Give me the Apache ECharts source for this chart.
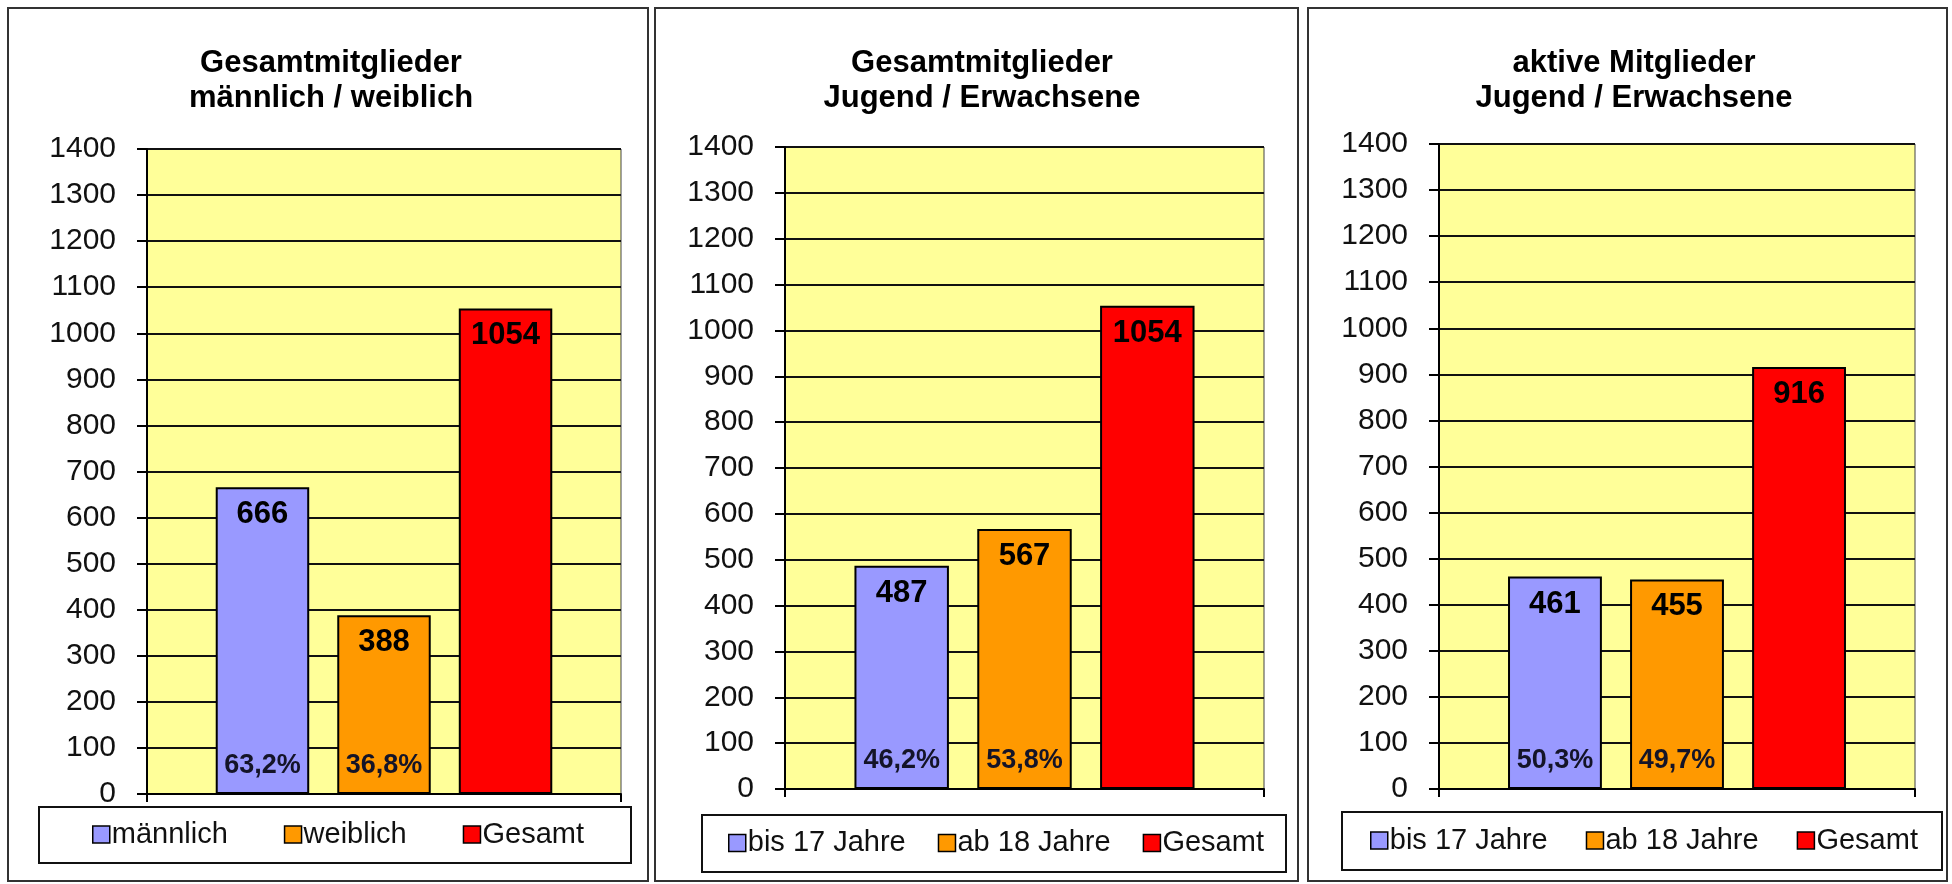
<!DOCTYPE html>
<html>
<head>
<meta charset="utf-8">
<script src="https://cdn.jsdelivr.net/npm/echarts@6/dist/echarts.min.js"></script>
<style>
  html, body { margin: 0; padding: 0; background: #fff; }
  #main { width: 1952px; height: 884px; }
</style>
</head>
<body>
<div id="main"></div>
<script>
// Daten
const panelTitles = [
    'Gesamtmitglieder\nmännlich / weiblich',
    'Gesamtmitglieder\nJugend / Erwachsene',
    'aktive Mitglieder\nJugend / Erwachsene'
];
const legendNames = [
    ['männlich', 'weiblich', 'Gesamt'],
    ['bis 17 Jahre', 'ab 18 Jahre', 'Gesamt'],
    ['bis 17 Jahre', 'ab 18 Jahre', 'Gesamt']
];
const memberValues = [
    [666, 388, 1054],
    [487, 567, 1054],
    [461, 455, 916]
];
const shareLabels = [
    ['63,2%', '36,8%'],
    ['46,2%', '53,8%'],
    ['50,3%', '49,7%']
];
const yMin = 0;
const yMax = 1400;
const yStep = 100;
const barColors = ['#9999FF', '#FF9900', '#FF0000'];

// Layout der drei Diagramme
const panelBoxes = [
    {x: 8, y: 8, w: 640, h: 873},
    {x: 655, y: 8, w: 643, h: 873},
    {x: 1308, y: 8, w: 639, h: 873}
];
const plotBoxes = [
    {left: 147, right: 621, top: 149, bottom: 794},
    {left: 785, right: 1264, top: 147, bottom: 789},
    {left: 1439, right: 1915, top: 144, bottom: 789}
];
const legendBoxes = [
    {x: 39, y: 807, w: 592, h: 56, itemsLeft: 92, gap: 56},
    {x: 702, y: 815, w: 584, h: 57, itemsLeft: 728, gap: 32},
    {x: 1342, y: 812, w: 600, h: 58, itemsLeft: 1370, gap: 38}
];
const titleCenters = [331, 982, 1634];

const font = '"Liberation Sans", Arial, sans-serif';

let myChart = echarts.init(document.getElementById('main'));

let titles = [], grids = [], xAxes = [], yAxes = [], legends = [], series = [], graphics = [];

panelTitles.forEach(function (title, p) {
    let box = panelBoxes[p];
    let plot = plotBoxes[p];
    let lg = legendBoxes[p];

    graphics.push({
        type: 'rect', z: -10, silent: true,
        shape: {x: box.x, y: box.y, width: box.w, height: box.h},
        style: {fill: '#fff', stroke: '#333', lineWidth: 2}
    });
    graphics.push({
        type: 'rect', z: 1, silent: true,
        shape: {x: lg.x, y: lg.y, width: lg.w, height: lg.h},
        style: {fill: 'none', stroke: '#111', lineWidth: 2}
    });

    titles.push({
        text: title,
        left: titleCenters[p],
        top: 46,
        textAlign: 'center',
        padding: 0,
        textStyle: {
            fontFamily: font, fontSize: 31, fontWeight: 'bold',
            color: '#000', lineHeight: 35
        }
    });

    grids.push({
        left: plot.left,
        top: plot.top,
        width: plot.right - plot.left,
        height: plot.bottom - plot.top,
        show: true,
        backgroundColor: '#FFFF99',
        borderColor: '#444',
        borderWidth: 1
    });

    xAxes.push({
        type: 'category',
        gridIndex: p,
        data: [''],
        axisLine: {lineStyle: {color: '#000', width: 2}},
        axisTick: {show: true, length: 8, lineStyle: {color: '#000', width: 2}},
        axisLabel: {show: false}
    });

    yAxes.push({
        type: 'value',
        gridIndex: p,
        min: yMin,
        max: yMax,
        interval: yStep,
        axisLine: {show: true, lineStyle: {color: '#000', width: 2}},
        axisTick: {show: true, length: 10, lineStyle: {color: '#000', width: 2}},
        axisLabel: {
            fontFamily: font, fontSize: 30, color: '#111', margin: 31,
            formatter: function (v) { return String(v); }
        },
        splitLine: {lineStyle: {color: '#111', width: 2}}
    });

    legends.push({
        data: legendNames[p],
        left: lg.itemsLeft,
        top: lg.y + lg.h / 2 - 15,
        width: 900,
        padding: 0,
        icon: 'rect',
        itemWidth: 17,
        itemHeight: 17,
        itemGap: lg.gap,
        selectedMode: false,
        itemStyle: {borderColor: '#000', borderWidth: 1.5},
        textStyle: {fontFamily: font, fontSize: 29, color: '#111', padding: [0, 0, 0, -3]}
    });

    legendNames[p].forEach(function (name, i) {
        let stackId = 'p' + p + 's' + i;
        if (i < 2) {
            // unsichtbarer Balken nur fuer die Prozentangabe unten im Balken
            series.push({
                name: 'anteil-' + p + '-' + i,
                type: 'bar',
                xAxisIndex: p,
                yAxisIndex: p,
                stack: stackId,
                barGap: '30%',
                barCategoryGap: '29%',
                silent: true,
                data: [0],
                itemStyle: {color: 'rgba(0,0,0,0)', borderWidth: 0},
                label: {
                    show: true,
                    position: 'top',
                    distance: 15,
                    formatter: shareLabels[p][i],
                    fontFamily: font,
                    fontSize: 27,
                    fontWeight: 'bold',
                    color: '#141428'
                }
            });
        }
        series.push({
            name: name,
            type: 'bar',
            xAxisIndex: p,
            yAxisIndex: p,
            stack: stackId,
            barGap: '30%',
            barCategoryGap: '29%',
            data: [memberValues[p][i]],
            itemStyle: {color: barColors[i], borderColor: '#000', borderWidth: 2},
            label: {
                show: true,
                position: 'insideTop',
                distance: 12,
                fontFamily: font,
                fontSize: 31,
                fontWeight: 'bold',
                color: '#000'
            }
        });
    });
});

myChart.setOption({
    animation: false,
    backgroundColor: '#fff',
    title: titles,
    grid: grids,
    xAxis: xAxes,
    yAxis: yAxes,
    legend: legends,
    series: series,
    graphic: graphics
});
</script>
</body>
</html>
